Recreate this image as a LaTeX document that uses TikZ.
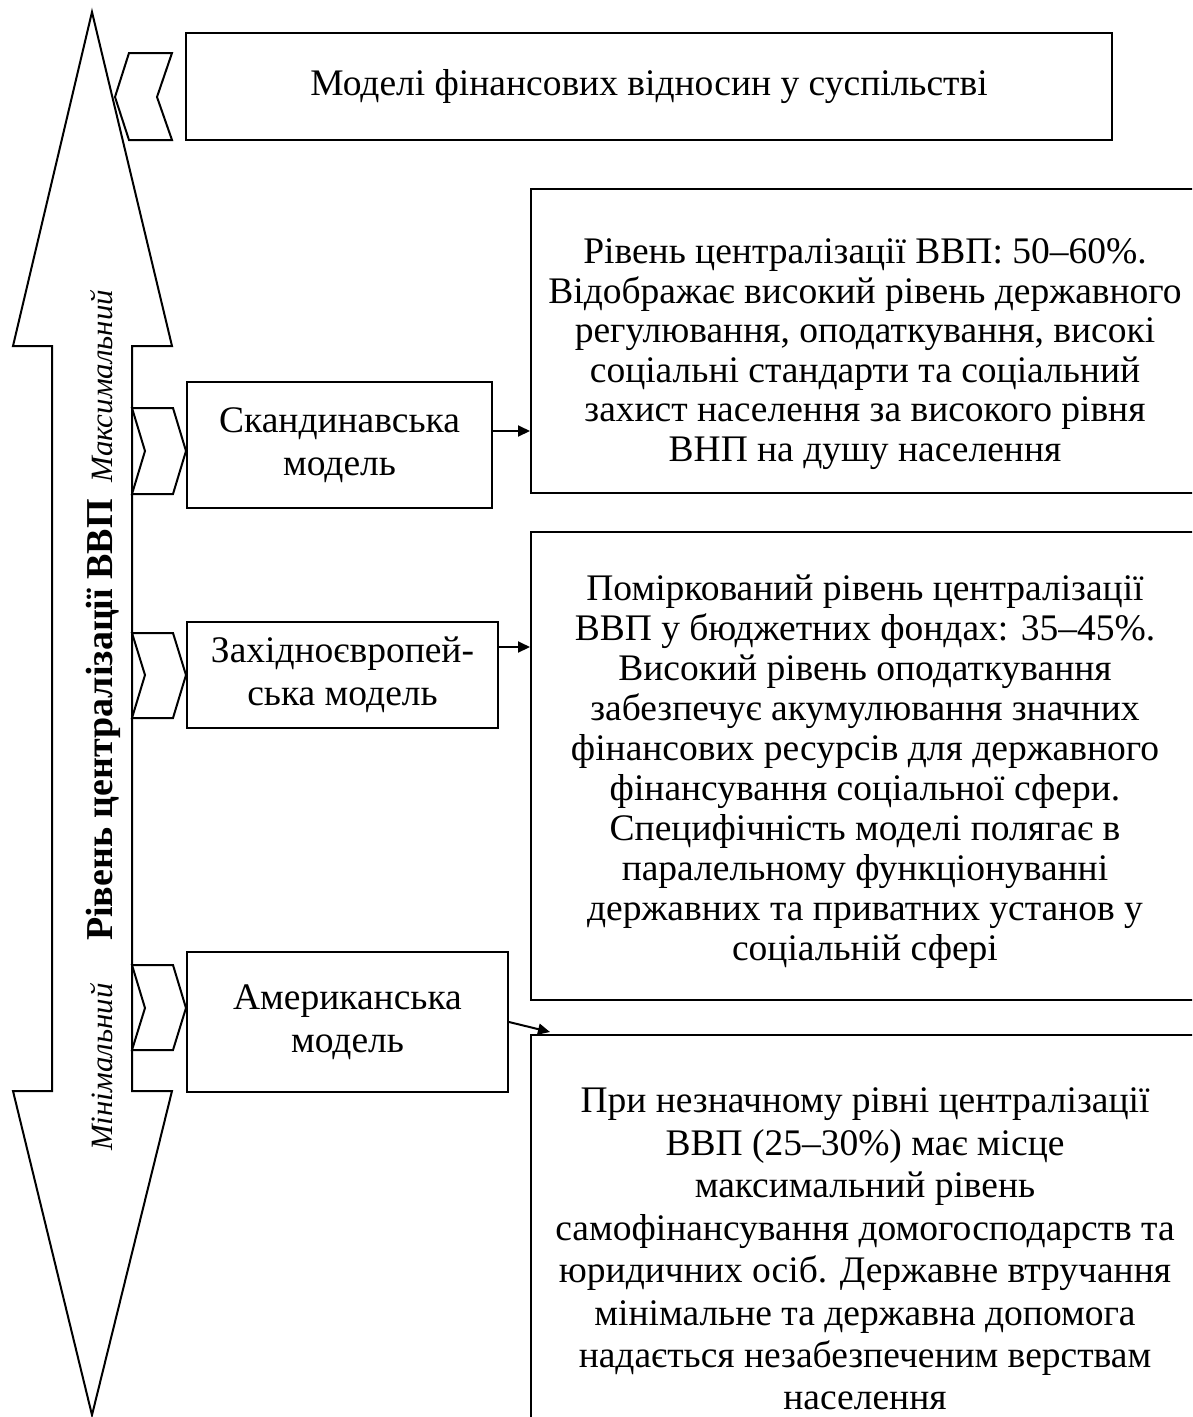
\documentclass[tikz,border=0pt]{standalone}
\usepackage{fontspec}
\setmainfont{Liberation Serif}
\usetikzlibrary{arrows.meta}
\begin{document}
\begin{tikzpicture}[x=1pt,y=-1pt,line width=2pt,line join=miter,
  box/.style={draw,rectangle,align=center,inner sep=0pt,
    font=\fontsize{37.5}{39.5}\selectfont},
  lbox/.style={box,font=\fontsize{37.5}{43}\selectfont},
  frame/.style={draw,rectangle,inner sep=0pt},
  txt/.style={align=center,inner sep=0pt},
  tag/.style={draw,fill=white},
  scale label/.style={rotate=90,anchor=base,inner sep=0pt},
  link/.style={-{Triangle[length=12pt,width=11pt]},line width=2pt}]
\useasboundingbox (0,0) rectangle (1192,1417);
\clip (0,0) rectangle (1192,1417);

% vertical double arrow: scale of GDP centralisation
\draw (92,12) -- (172,346) -- (132,346) -- (132,1091) -- (172,1091)
  -- (92,1415) -- (13,1091) -- (52,1091) -- (52,346) -- (13,346) -- cycle;

\node[scale label,font=\fontsize{31}{33}\selectfont\itshape] (lo) at (112,1067) {Мінімальний};
\node[scale label,font=\fontsize{38}{40}\selectfont\bfseries] (mid) at (112,720)
  {Рівень централізації ВВП};
\node[scale label,font=\fontsize{31}{33}\selectfont\itshape] (hi) at (112,386) {Максимальний};

% heading
\node[box,minimum width=926,minimum height=107] (title) at (649,86.5)
  {Моделі фінансових відносин у суспільстві};
\draw[tag] (129,53) -- (172,53) -- (157,97) -- (172,140) -- (129,140) -- (115,97) -- cycle;

% models
\node[lbox,minimum width=305,minimum height=126] (scand) at (339.5,445)
  {Скандинавська\\модель};
\node[lbox,minimum width=311,minimum height=106] (west) at (342.5,675)
  {Західноєвропей-\\ська модель};
\node[lbox,minimum width=321,minimum height=140] (amer) at (347.5,1022)
  {Американська\\модель};

\draw[tag] (132,408) -- (173,408) -- (186,451) -- (173,494) -- (132,494) -- (145,451) -- cycle;
\draw[tag] (132,633) -- (173,633) -- (186,675) -- (173,718) -- (132,718) -- (145,675) -- cycle;
\draw[tag] (132,965) -- (173,965) -- (186,1008) -- (173,1050) -- (132,1050) -- (145,1008) -- cycle;

% descriptions: frames run past the right and bottom edges of the page
\node[frame,minimum width=669,minimum height=304] (d1) at (865.5,341) {};
\node[frame,minimum width=669,minimum height=468] (d2) at (865.5,766) {};
\node[frame,minimum width=669,minimum height=430] (d3) at (865.5,1250) {};

\node[txt,font=\fontsize{37.5}{39.5}\selectfont] (t1) at (865,354)
  {Рівень централізації ВВП: 50–60\%.\\
   Відображає високий рівень державного\\
   регулювання, оподаткування, високі\\
   соціальні стандарти та соціальний\\
   захист населення за високого рівня\\
   ВНП на душу населення};
\node[txt,font=\fontsize{37.5}{40}\selectfont] (t2) at (865,772)
  {Поміркований рівень централізації\\
   ВВП у бюджетних фондах: 35–45\%.\\
   Високий рівень оподаткування\\
   забезпечує акумулювання значних\\
   фінансових ресурсів для державного\\
   фінансування соціальної сфери.\\
   Специфічність моделі полягає в\\
   паралельному функціонуванні\\
   державних та приватних установ у\\
   соціальній сфері};
\node[txt,font=\fontsize{37.5}{42.5}\selectfont] (t3) at (865,1249)
  {При незначному рівні централізації\\
   ВВП (25–30\%) має місце\\
   максимальний рівень\\
   самофінансування домогосподарств та\\
   юридичних осіб. Державне втручання\\
   мінімальне та державна допомога\\
   надається незабезпеченим верствам\\
   населення};

% links
\draw[link] ([yshift=14pt]scand.east) -- ([yshift=14pt]scand.east -| d1.west);
\draw[link] ([yshift=28pt]west.east) -- ([yshift=28pt]west.east -| d2.west);
\coordinate (a3) at ([xshift=20pt,yshift=2pt]d3.north west);
\draw[link] (amer.east) -- (a3);
\end{tikzpicture}
\end{document}
